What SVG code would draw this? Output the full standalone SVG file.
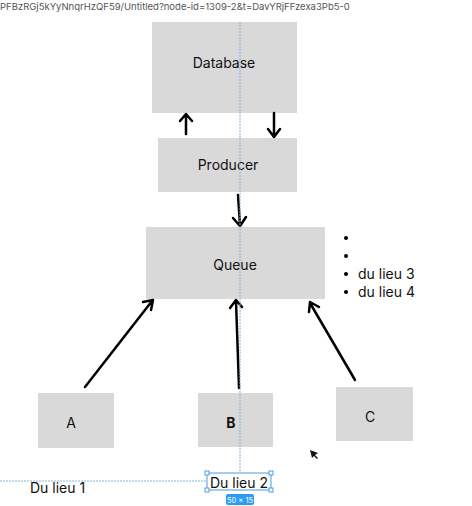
<svg xmlns="http://www.w3.org/2000/svg" width="472" height="506" viewBox="0 0 472 506">
<style>
.box{fill:#d9d9d9}
.lbl{font-family:Inter,"Liberation Sans",sans-serif;font-size:14px;fill:#111}
.arr{stroke:#000;stroke-width:2.5;fill:none;stroke-linecap:round;stroke-linejoin:round}
.guide{stroke:#7fb6e0;stroke-width:1;stroke-dasharray:2 1;fill:none}
</style>
<rect width="472" height="506" fill="#fff"/>
<text x="0" y="10" font-family="Inter,'Liberation Sans',sans-serif" font-size="9.5" fill="#555">PFBzRGj5kYyNnqrHzQF59/Untitled?node-id=1309-2&amp;t=DavYRjFFzexa3Pb5-0</text>
<g id="database"><rect class="box" x="152" y="22" width="145" height="91"/><text class="lbl" x="224" y="68" text-anchor="middle">Database</text></g>
<g id="producer"><rect class="box" x="158" y="138" width="139" height="54"/><text class="lbl" x="228" y="170" text-anchor="middle">Producer</text></g>
<g id="queue"><rect class="box" x="146" y="227" width="179" height="72"/><text class="lbl" x="235" y="270" text-anchor="middle">Queue</text></g>
<g id="a"><rect class="box" x="38" y="393" width="76" height="55"/><text class="lbl" x="71" y="428" text-anchor="middle">A</text></g>
<g id="b"><rect class="box" x="198" y="393" width="75" height="54"/><text class="lbl" x="231" y="428" text-anchor="middle" font-weight="bold">B</text></g>
<g id="c"><rect class="box" x="336" y="387" width="77" height="54"/><text class="lbl" x="370" y="422" text-anchor="middle">C</text></g>
<g id="list">
<circle cx="346" cy="238" r="2"/><circle cx="346" cy="256" r="2"/><circle cx="346" cy="274" r="2"/><circle cx="346" cy="292" r="2"/>
<text class="lbl" x="358" y="279">du lieu 3</text>
<text class="lbl" x="358" y="297">du lieu 4</text>
</g>
<g id="connectors">
<path class="arr" d="M186 134 L186 115 M180 121 L186 114 L192 121"/>
<path class="arr" d="M274 113 L274 136 M268 129 L274 137 L280 129"/>
<path class="arr" d="M238 195 L240 225 M233 218 L240 226 L246 217"/>
<path class="arr" d="M85 387 L152 301 M143 302 L153 300 L151 310"/>
<path class="arr" d="M239 388 L236 301 M230 308 L236 300 L242 307"/>
<path class="arr" d="M355 380 L310 303 M309 312 L310 302 L319 307"/>
</g>
<g id="overlay">
<line class="guide" x1="240" y1="22" x2="240" y2="472"/>
<line class="guide" x1="0" y1="481" x2="207" y2="481"/>
<text class="lbl" x="30" y="493">Du lieu 1</text>
<text class="lbl" x="210" y="488">Du lieu 2</text>
<rect x="207" y="473" width="64" height="17" fill="none" stroke="#4a9be0" stroke-width="1"/>
<g fill="#fff" stroke="#4a9be0" stroke-width="1">
<rect x="205" y="471" width="4" height="4"/><rect x="269" y="471" width="4" height="4"/><rect x="205" y="488" width="4" height="4"/><rect x="269" y="488" width="4" height="4"/>
</g>
<rect x="226" y="494" width="28" height="11" rx="2" fill="#2d9bf0"/>
<text x="240" y="502.5" text-anchor="middle" font-family="Inter,'Liberation Sans',sans-serif" font-size="7.5" fill="#fff">50 × 15</text>
<path d="M310 450 L318 453 L315 455 L318 458 L317 459 L314 456 L312 458 Z" fill="#111"/>
</g>
</svg>
